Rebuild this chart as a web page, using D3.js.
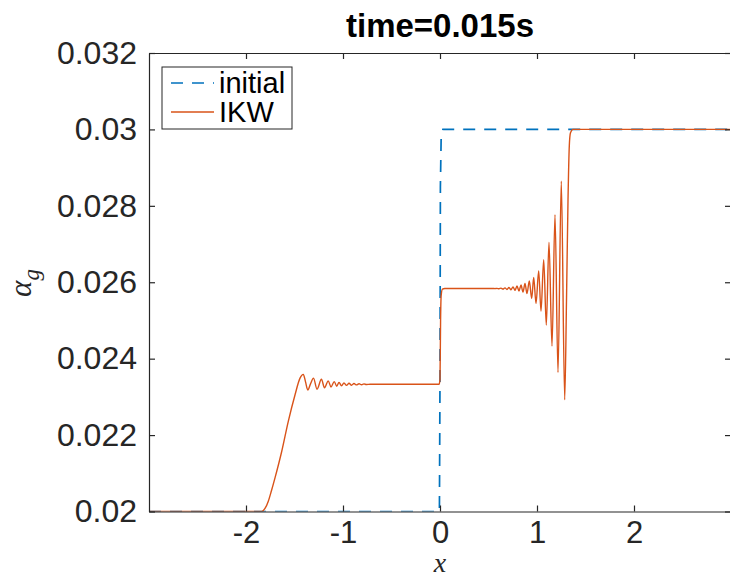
<!DOCTYPE html>
<html>
<head>
<meta charset="utf-8">
<script src="https://cdn.jsdelivr.net/npm/d3@7"></script>
<style>
  body { margin: 0; background: #fff; }
  svg { display: block; }
</style>
</head>
<body>
<svg width="730" height="579"></svg>
<script>
// chart values
const titleText = 'time=0.015s'
const xTicks = [-2, -1, 0, 1, 2]
const yTicks = [0.02, 0.022, 0.024, 0.026, 0.028, 0.03, 0.032]
const yTickLabels = ['0.02', '0.022', '0.024', '0.026', '0.028', '0.03', '0.032']

// initial condition (dashed)
const initX = [-3, -0.006, 0.0, 0.004, 0.012, 0.03, 3]
const initY = [0.02, 0.02, 0.0235, 0.0285, 0.0298, 0.03, 0.03]

// IKW solution
const ikwX = [
  -3, -1.838, -1.804, -1.770, -1.737, -1.701, -1.632, -1.564, -1.495, -1.443, -1.409,
  -1.387, -1.363, -1.335, -1.304, -1.268, -1.222, -1.191, -1.152, -1.124, -1.090, -1.065,
  -1.041, -1.015, -0.990, -0.964, -0.938, -0.912, -0.887, -0.861, -0.835, -0.809, -0.784, -0.758,
  -0.72, -0.01, 0.0, 0.006, 0.012, 0.025, 0.05,
  0.5155, 0.5464, 0.567, 0.5876, 0.6082, 0.6289, 0.6495, 0.6701, 0.6907, 0.7113, 0.732,
  0.7526, 0.7732, 0.7938, 0.8144, 0.8351, 0.8557, 0.8763, 0.8969, 0.9206, 0.9454, 0.966,
  0.9897, 1.0175, 1.0412, 1.0691, 1.0959, 1.1237, 1.1546, 1.1856, 1.2165, 1.2505, 1.2856,
  1.3041, 1.3196, 1.333, 1.3454, 1.3711, 3
]
const ikwY = [
  0.02, 0.02, 0.02008, 0.02027, 0.02055, 0.02088, 0.02157, 0.02236, 0.02305, 0.02349, 0.02359,
  0.02340, 0.02318, 0.02334, 0.02349, 0.02320, 0.02346, 0.02324, 0.02342, 0.02326, 0.02340, 0.02328,
  0.02338, 0.02329, 0.023365, 0.02330, 0.023357, 0.023305, 0.02335, 0.023313, 0.023344, 0.023318, 0.023339, 0.023323,
  0.02333, 0.02333, 0.02345, 0.0250, 0.02565, 0.02582, 0.025836,
  0.025836, 0.025838, 0.025832, 0.025841, 0.025828, 0.025846, 0.02582, 0.025854, 0.025812, 0.025864, 0.025802,
  0.02588, 0.025789, 0.025901, 0.025771, 0.025927, 0.025744, 0.025966, 0.025705, 0.026034, 0.025575, 0.026123,
  0.025444, 0.026295, 0.025243, 0.026592, 0.024878, 0.027051, 0.02433, 0.027766, 0.023639, 0.028643, 0.022922,
  0.02553, 0.02814, 0.02957, 0.02991, 0.03, 0.03
]

const svg = d3.select('svg')
const margin = {top: 53, right: -1, bottom: 67.5, left: 149}
const width = +svg.attr('width') - margin.left - margin.right
const height = +svg.attr('height') - margin.top - margin.bottom
const axisColor = '#262626'
const sans = '"Liberation Sans", Arial, Helvetica, sans-serif'
const serif = '"Liberation Serif", "DejaVu Serif", serif'

const x = d3.scaleLinear().domain([-3, 3]).range([0, width])
const y = d3.scaleLinear().domain([0.02, 0.032]).range([height, 0])

const g = svg.append('g')
  .attr('transform', `translate(${margin.left}, ${margin.top})`)

g.append('defs').append('clipPath').attr('id', 'clip')
  .append('rect').attr('width', width).attr('height', height + 1).attr('y', -1)

// lines
const plot = g.append('g').attr('clip-path', 'url(#clip)')
const line = d3.line().x(d => x(d[0])).y(d => y(d[1]))

plot.append('path')
  .datum(initX.map((v, i) => [v, initY[i]]))
  .attr('fill', 'none')
  .attr('stroke', '#0072BD')
  .attr('stroke-width', 1.7)
  .attr('stroke-dasharray', '12,9')
  .attr('d', line)

plot.append('path')
  .datum(ikwX.map((v, i) => [v, ikwY[i]]))
  .attr('fill', 'none')
  .attr('stroke', '#D95319')
  .attr('stroke-width', 1.4)
  .attr('d', line.curve(d3.curveMonotoneX))

// axes (ticks point inward, box on)
const xAxis = g.append('g')
  .attr('transform', `translate(0, ${height})`)
  .call(d3.axisBottom(x).tickValues(xTicks).tickSize(-6).tickSizeOuter(0).tickPadding(9))
const yAxis = g.append('g')
  .call(d3.axisLeft(y).tickValues(yTicks).tickSize(-6).tickSizeOuter(0).tickPadding(12)
    .tickFormat((d, i) => yTickLabels[i]))
g.append('g')
  .call(d3.axisTop(x).tickValues(xTicks).tickSize(-6).tickSizeOuter(0).tickFormat(''))
g.append('g')
  .attr('transform', `translate(${width}, 0)`)
  .call(d3.axisRight(y).tickValues(yTicks).tickSize(-6).tickSizeOuter(0).tickFormat(''))

g.selectAll('.domain').attr('stroke', axisColor).attr('stroke-width', 1.2)
g.selectAll('.tick line').attr('stroke', axisColor).attr('stroke-width', 1.2)
g.selectAll('.tick text').attr('fill', '#262626').attr('font-family', sans).attr('font-size', 32)
xAxis.selectAll('.tick text').attr('font-size', 31).text(d => d < 0 ? '-' + Math.abs(d) : d)

// title
svg.append('text')
  .attr('x', 440).attr('y', 37)
  .attr('text-anchor', 'middle')
  .attr('font-family', sans).attr('font-weight', 'bold').attr('font-size', 33)
  .attr('fill', '#000')
  .text(titleText)

// axis labels
svg.append('text')
  .attr('x', 440).attr('y', 572)
  .attr('text-anchor', 'middle')
  .attr('font-family', serif).attr('font-style', 'italic').attr('font-size', 28)
  .attr('fill', '#262626')
  .text('x')

const yl = svg.append('text')
  .attr('transform', 'translate(31, 283) rotate(-90)')
  .attr('text-anchor', 'middle')
  .attr('font-family', serif).attr('font-style', 'italic').attr('font-size', 31)
  .attr('fill', '#262626')
yl.append('tspan').text('α')
yl.append('tspan').attr('font-size', 23).attr('dy', 8).text('g')

// legend
const leg = svg.append('g').attr('transform', 'translate(162, 67)')
leg.append('rect').attr('width', 130).attr('height', 62)
  .attr('fill', '#fff').attr('stroke', axisColor).attr('stroke-width', 1)
const items = [
  {name: 'initial', color: '#0072BD', dash: '12,9'},
  {name: 'IKW', color: '#D95319', dash: null}
]
items.forEach((it, i) => {
  const cy = 16 + i * 29
  leg.append('line').attr('x1', 9).attr('x2', 52).attr('y1', cy).attr('y2', cy)
    .attr('stroke', it.color).attr('stroke-width', 1.6)
    .attr('stroke-dasharray', it.dash)
  leg.append('text').attr('x', 57).attr('y', cy + 10)
    .attr('font-family', sans).attr('font-size', 29).attr('fill', '#000')
    .text(it.name)
})
</script>
</body>
</html>
